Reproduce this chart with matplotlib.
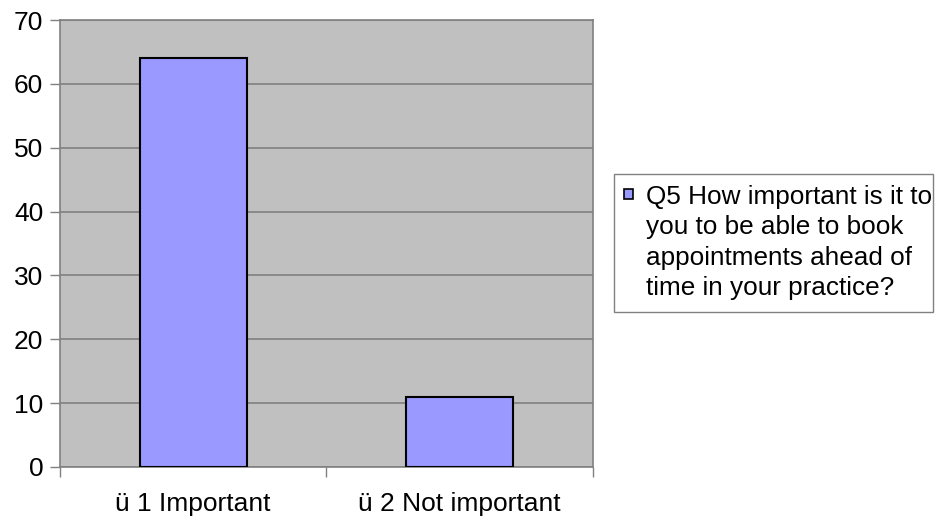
import matplotlib
matplotlib.use("Agg")
import matplotlib.pyplot as plt
from matplotlib.patches import Rectangle

plt.rcParams['font.family'] = ['Liberation Sans', 'DejaVu Sans']

# data
categories = ["ü 1 Important", "ü 2 Not important"]
values = [64, 11]
series_name = "Q5 How important is it to\nyou to be able to book\nappointments ahead of\ntime in your practice?"

bar_color = "#9999FF"
grid_color = "#808080"

fig = plt.figure(figsize=(9.4, 5.22), dpi=100)
W, H = 940, 522
ax = fig.add_axes([60 / W, 1 - 467 / H, (593 - 60) / W, (467 - 20) / H])
ax.set_facecolor("#C0C0C0")

x = list(range(len(categories)))
ax.bar(x, values, width=0.4, color=bar_color, edgecolor="black", linewidth=1.5, zorder=3)

ax.set_xlim(-0.5, len(categories) - 0.5)
ax.set_ylim(0, 70)
ax.set_yticks(range(0, 71, 10))
ax.yaxis.grid(True, color=grid_color, linewidth=1.2, zorder=0)
ax.set_axisbelow(True)

# category boundaries as ticks, labels centred
ax.set_xticks([-0.5, 0.5, 1.5])
ax.set_xticklabels([])
ax.set_xticks(x, minor=True)
ax.set_xticklabels(categories, minor=True, fontsize=19)
ax.tick_params(axis='x', which='minor', length=0, pad=18)
ax.tick_params(axis='x', which='major', length=7, width=1, color=grid_color)
ax.tick_params(axis='y', length=7, width=1, color=grid_color, labelsize=19, pad=5)

for side in ["top", "right", "left", "bottom"]:
    ax.spines[side].set_color(grid_color)
    ax.spines[side].set_linewidth(1.2)

# legend drawn by hand so the key sits on the first line
fig.patches.append(Rectangle((614 / W, 1 - 312 / H), (933 - 614) / W, (312 - 174) / H,
                             transform=fig.transFigure, facecolor="white",
                             edgecolor=grid_color, linewidth=1))
fig.patches.append(Rectangle((623.5 / W, 1 - 198.5 / H), 9 / W, 9 / H,
                             transform=fig.transFigure, facecolor=bar_color,
                             edgecolor="black", linewidth=1.2))
fig.text(646 / W, 1 - 185 / H, series_name, fontsize=18.8, va="top", ha="left",
         linespacing=1.33)

fig.savefig("out.png", dpi=100)
